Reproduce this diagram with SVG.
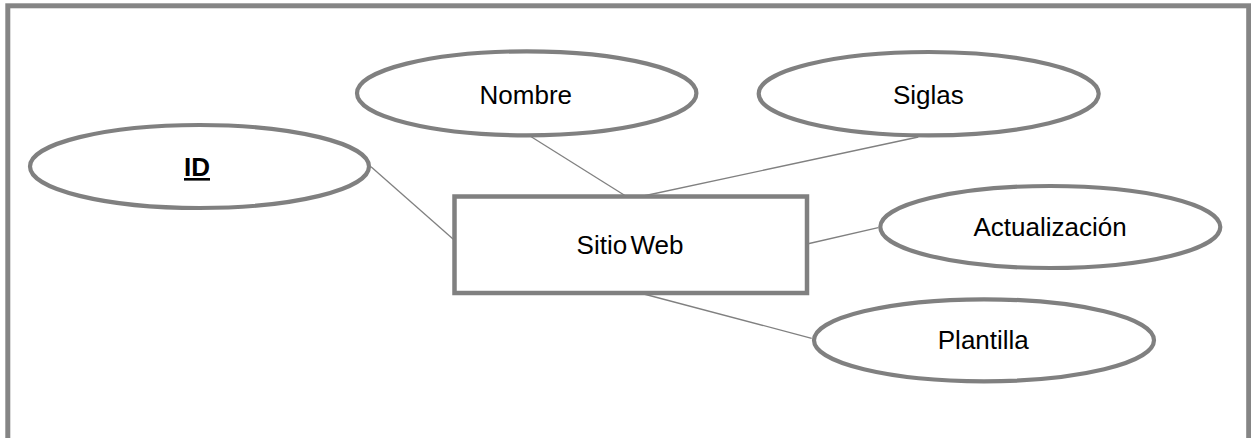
<svg xmlns="http://www.w3.org/2000/svg" width="1251" height="438" viewBox="0 0 1251 438">
<style>
.attr{fill:#fff;stroke:#808080;stroke-width:4.2}
.ent{fill:#fff;stroke:#808080;stroke-width:4.5}
.lbl{font-family:"Liberation Sans",Arial,sans-serif;font-size:26px;fill:#000;text-anchor:middle}
.key{font-weight:bold;text-decoration:underline}
.conn line{stroke:#808080;stroke-width:1.3}
</style>
<rect x="7.8" y="5.8" width="1240.9" height="450" fill="#fff" stroke="#858585" stroke-width="5"/>
<g id="connectors" class="conn">
<line x1="371" y1="166.7" x2="455" y2="240.7"/>
<line x1="530" y1="136" x2="625.7" y2="196"/>
<line x1="918.3" y1="137" x2="643.3" y2="196"/>
<line x1="807" y1="244" x2="878.3" y2="227.7"/>
<line x1="640" y1="293" x2="811.7" y2="338.3"/>
</g>
<g id="entity-sitio-web">
<rect class="ent" x="454.5" y="196.5" width="352.5" height="96.5"/>
<text class="lbl" x="630" y="254" word-spacing="-4">Sitio Web</text>
</g>
<g id="attr-id">
<ellipse class="attr" cx="199.5" cy="166.5" rx="169.5" ry="41.5"/>
<text class="lbl key" x="197" y="176">ID</text>
</g>
<g id="attr-nombre">
<ellipse class="attr" cx="526.7" cy="93.3" rx="169.7" ry="42"/>
<text class="lbl" x="525.8" y="104">Nombre</text>
</g>
<g id="attr-siglas">
<ellipse class="attr" cx="928.7" cy="93.7" rx="170" ry="41.7"/>
<text class="lbl" x="928.3" y="103.5">Siglas</text>
</g>
<g id="attr-actualizacion">
<ellipse class="attr" cx="1050.3" cy="227" rx="170" ry="41"/>
<text class="lbl" x="1050" y="236">Actualización</text>
</g>
<g id="attr-plantilla">
<ellipse class="attr" cx="984" cy="340.3" rx="170" ry="41"/>
<text class="lbl" x="983.3" y="349.3">Plantilla</text>
</g>
</svg>
